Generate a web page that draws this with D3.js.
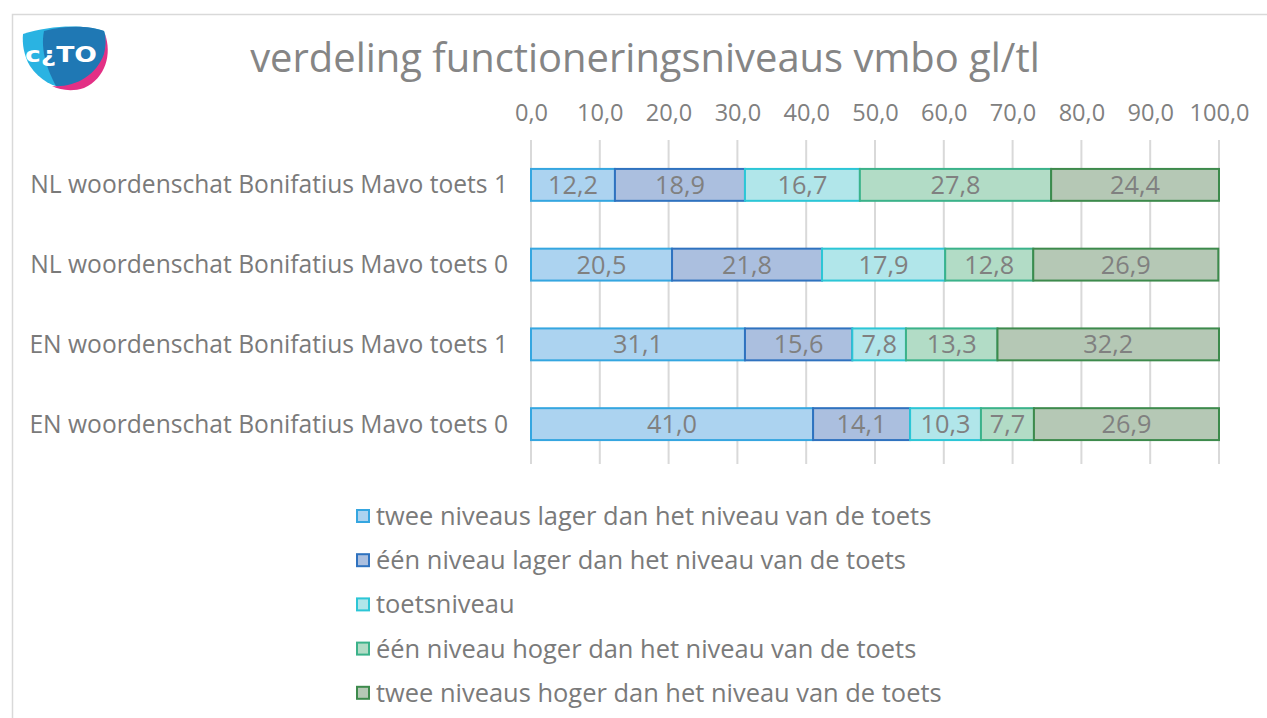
<!DOCTYPE html>
<html><head><meta charset="utf-8">
<script src="https://cdn.jsdelivr.net/npm/d3@7"></script>
<style>body{margin:0;background:#fff;} svg{display:block;}</style>
</head><body>
<script>
const categories = ["NL woordenschat Bonifatius Mavo toets 1","NL woordenschat Bonifatius Mavo toets 0","EN woordenschat Bonifatius Mavo toets 1","EN woordenschat Bonifatius Mavo toets 0"];
const seriesNames = ["twee niveaus lager dan het niveau van de toets","één niveau lager dan het niveau van de toets","toetsniveau","één niveau hoger dan het niveau van de toets","twee niveaus hoger dan het niveau van de toets"];
const tweeLager = [12.2, 20.5, 31.1, 41.0];
const eenLager = [18.9, 21.8, 15.6, 14.1];
const toetsniveau = [16.7, 17.9, 7.8, 10.3];
const eenHoger = [27.8, 12.8, 13.3, 7.7];
const tweeHoger = [24.4, 26.9, 32.2, 26.9];
const tickValues = [0,10,20,30,40,50,60,70,80,90,100];
const title = "verdeling functioneringsniveaus vmbo gl/tl";

const seriesValues = [tweeLager, eenLager, toetsniveau, eenHoger, tweeHoger];
const fills = ["#acd3f0","#abbfdf","#b1e6ea","#b2dcc6","#b5c8b5"];
const strokes = ["#35a6e0","#2f72bf","#2cc6d6","#3bb28a","#3d8a4c"];
const font = "'Open Sans', sans-serif";
const textCol = "#808080";

const W = 1267, H = 718;
const svg = d3.select("body").append("svg").attr("width", W).attr("height", H);
svg.append("rect").attr("x",12.5).attr("y",14.5).attr("width",W).attr("height",H).attr("fill","#fff").attr("stroke","#d9d9d9").attr("stroke-width",1.5);

function fit(sel, refText, target) {
  let fs = +sel.attr("font-size");
  let w = 0;
  sel.each(function(){ if (this.textContent === refText) w = this.getComputedTextLength(); });
  if (w > 0) sel.attr("font-size", fs * target / w);
}

// logo
const logo = svg.append("g").attr("transform","translate(22,26)");
logo.append("path").attr("d","M1,8 C28,-1 62,-2 82,5 C88,22 80,48 58,60 C40,66 20,58 8,40 C2,30 0,18 1,8 Z").attr("fill","#2ab3e2");
logo.append("path").attr("d","M22,5 C45,-1 68,0 82,5 C88,22 80,48 58,60 C48,64 40,64 34,60 C26,45 18,25 22,5 Z").attr("fill","#1f78b4");
logo.append("path").attr("d","M30,60 C52,62 74,50 82,28 C84,20 84,14 83,8 C90,28 84,52 62,62 C50,66 38,64 30,60 Z").attr("fill","#e33085");
logo.append("text").attr("x",3).attr("y",36).attr("font-family","'DejaVu Sans', sans-serif").attr("font-weight","bold").attr("font-size",21).attr("fill","#fff")
  .attr("textLength",72).attr("lengthAdjust","spacingAndGlyphs").text("c¿TO");

// title
const tt = svg.append("text").attr("x",645).attr("y",72).attr("text-anchor","middle").attr("font-family",font).attr("font-size",35).attr("fill","#858585").text(title);
fit(tt, title, 790);

const x = d3.scaleLinear().domain([0,100]).range([531,1219]);
const y = d3.scaleBand().domain(categories).range([145,464]).paddingInner(0.6).paddingOuter(0.3);

// gridlines
svg.append("g").selectAll("line").data(tickValues).join("line")
  .attr("x1",d=>x(d)).attr("x2",d=>x(d)).attr("y1",140).attr("y2",464)
  .attr("stroke","#d9d9d9").attr("stroke-width",2);

// top axis
const axis = d3.axisTop(x).tickValues(tickValues).tickSize(0).tickPadding(0).tickFormat(d=>d3.format(".1f")(d).replace(".",","));
const ag = svg.append("g").attr("transform","translate(0,121)").call(axis);
ag.select(".domain").remove();
const at = ag.selectAll("text").attr("font-family",font).attr("font-size",20).attr("fill",textCol);
fit(at, "100,0", 60);

// category labels
const cl = svg.append("g").selectAll("text").data(categories).join("text")
  .attr("x",508).attr("y",d=>y(d)+y.bandwidth()/2).attr("dy","0.35em").attr("text-anchor","end")
  .attr("font-family",font).attr("font-size",21.5).attr("fill","#7a7a7a").text(d=>d);
fit(cl, categories[0], 478);

// stacked bars
const rows = categories.map((c,i)=>{const o={cat:c}; seriesNames.forEach((s,j)=>o[s]=seriesValues[j][i]); return o;});
const stack = d3.stack().keys(seriesNames)(rows);
stack.forEach((layer,j)=>{
  const g = svg.append("g");
  g.selectAll("rect").data(layer).join("rect")
    .attr("x",d=>x(d[0])).attr("y",d=>y(d.data.cat)).attr("width",d=>x(d[1])-x(d[0])).attr("height",y.bandwidth())
    .attr("fill",fills[j]).attr("stroke",strokes[j]).attr("stroke-width",2);
  g.selectAll("text").data(layer).join("text").attr("class","vlab")
    .attr("x",d=>(x(d[0])+x(d[1]))/2).attr("y",d=>y(d.data.cat)+y.bandwidth()/2).attr("dy","0.36em").attr("text-anchor","middle")
    .attr("font-family",font).attr("font-size",20).attr("fill","#808080")
    .text(d=>d3.format(".1f")(d[1]-d[0]).replace(".",","));
});
fit(svg.selectAll(".vlab"), "41,0", 50);

// legend
const lg = svg.append("g").selectAll("g").data(seriesNames).join("g")
  .attr("transform",(d,i)=>`translate(357,${516+i*44.2})`);
lg.append("rect").attr("x",0).attr("y",-6).attr("width",12).attr("height",12)
  .attr("fill",(d,i)=>fills[i]).attr("stroke",(d,i)=>strokes[i]).attr("stroke-width",2);
const lt = lg.append("text").attr("x",19).attr("y",0).attr("dy","0.35em").attr("font-family",font).attr("font-size",21.5).attr("fill","#7a7a7a").text(d=>d);
fit(lt, seriesNames[4], 566);
</script>
</body></html>
